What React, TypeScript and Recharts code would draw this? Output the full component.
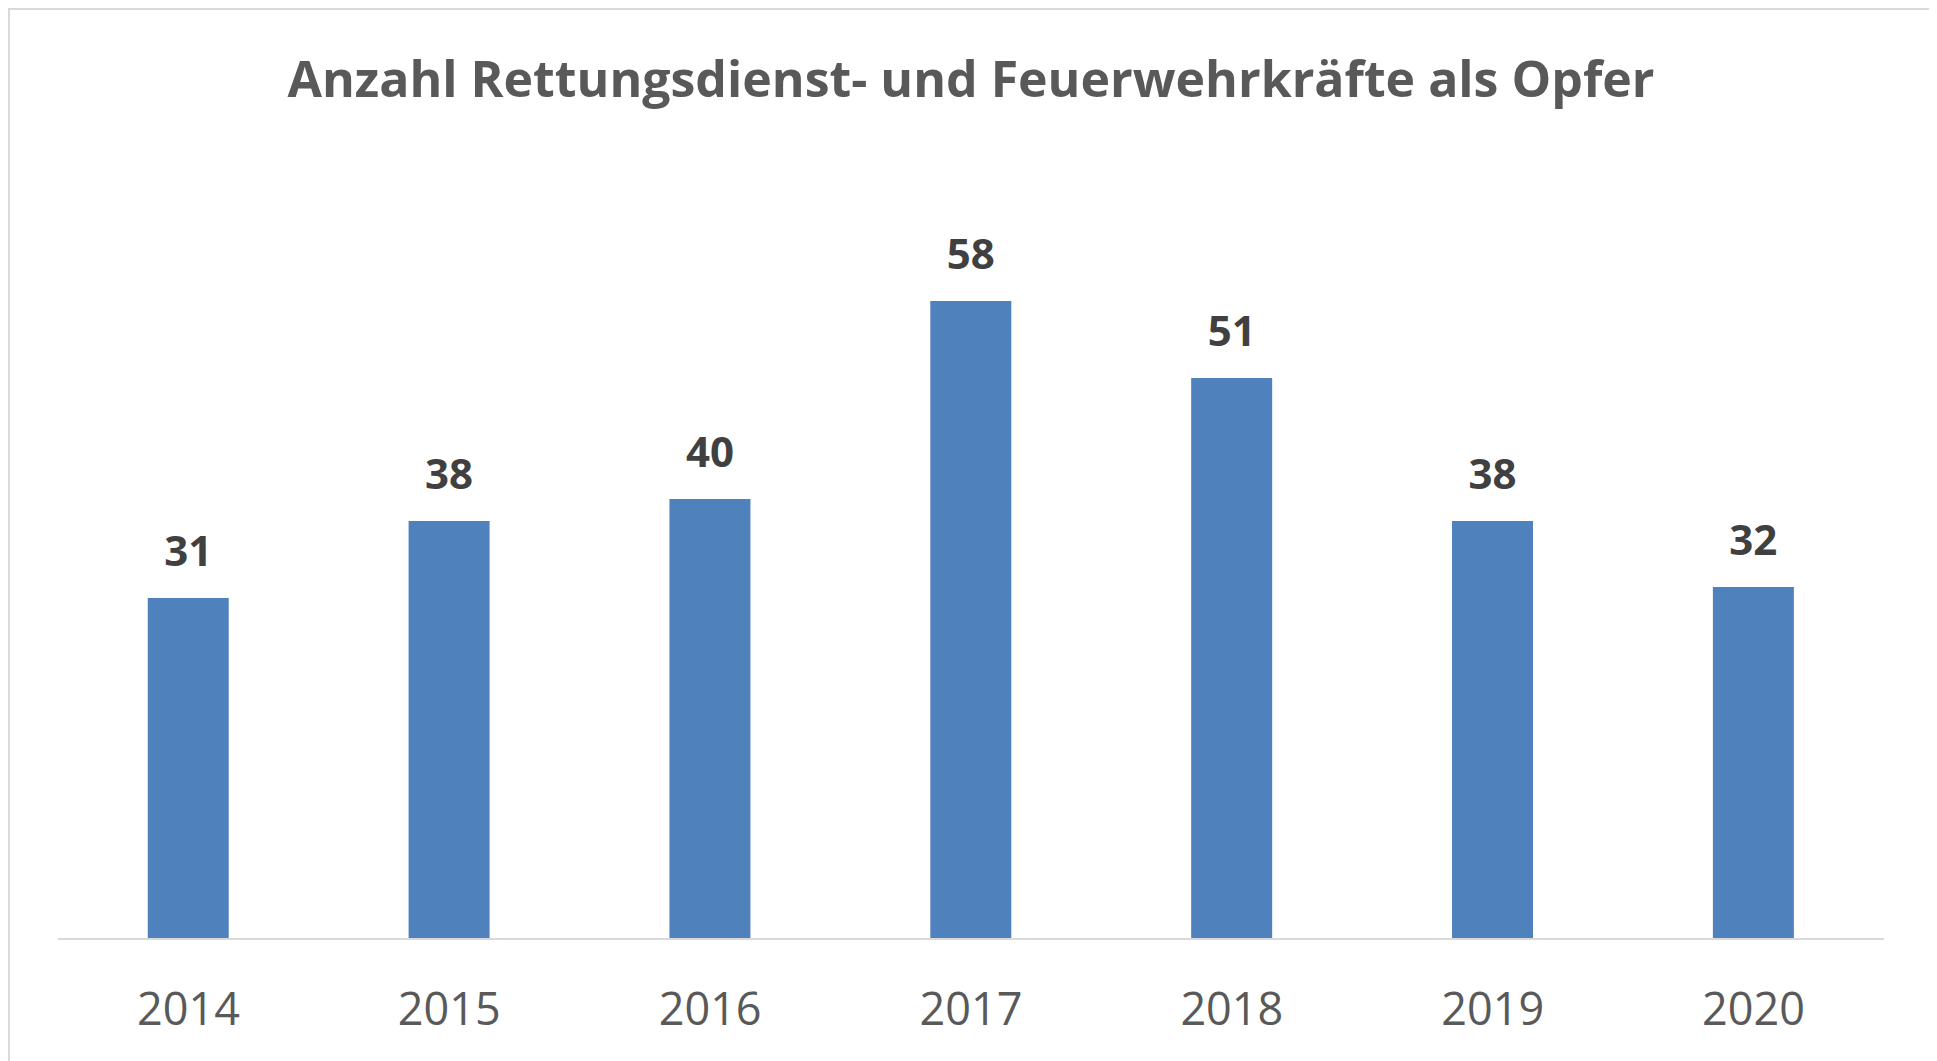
import { BarChart, Bar, XAxis, YAxis, LabelList } from "recharts";

const years = ["2014", "2015", "2016", "2017", "2018", "2019", "2020"];
const victims = [31, 38, 40, 58, 51, 38, 32];

const data = years.map((year, i) => ({ year, value: victims[i] }));

const font = "'Open Sans', 'Noto Sans', sans-serif";

const App = () => {
  return (
    <div
      style={{
        position: "relative",
        width: 1926,
        height: 1060,
        border: "2px solid #d9d9d9",
        boxSizing: "border-box",
        background: "#fff",
        fontFamily: font,
      }}
    >
      <div
        style={{
          position: "absolute",
          left: 0,
          right: 0,
          top: 38,
          textAlign: "center",
          fontSize: 50,
          fontWeight: 700,
          color: "#595959",
          lineHeight: "60px",
        }}
      >
        Anzahl Rettungsdienst- und Feuerwehrkräfte als Opfer
      </div>
      <BarChart
        width={1922}
        height={1056}
        data={data}
        margin={{ top: 159, right: 48, left: 48, bottom: 67 }}
        barCategoryGap="34.4%"
      >
        <XAxis
          dataKey="year"
          height={60}
          tickLine={false}
          axisLine={{ stroke: "#d9d9d9", strokeWidth: 2 }}
          tick={{ fill: "#595959", fontSize: 45, fontFamily: font }}
          tickMargin={48}
        />
        <YAxis hide domain={[0, 70]} />
        <Bar dataKey="value" fill="#4f81bd" isAnimationActive={false}>
          <LabelList
            dataKey="value"
            position="top"
            offset={32}
            fill="#404040"
            fontSize={42}
            fontWeight={700}
            fontFamily={font}
          />
        </Bar>
      </BarChart>
    </div>
  );
};

export default App;
